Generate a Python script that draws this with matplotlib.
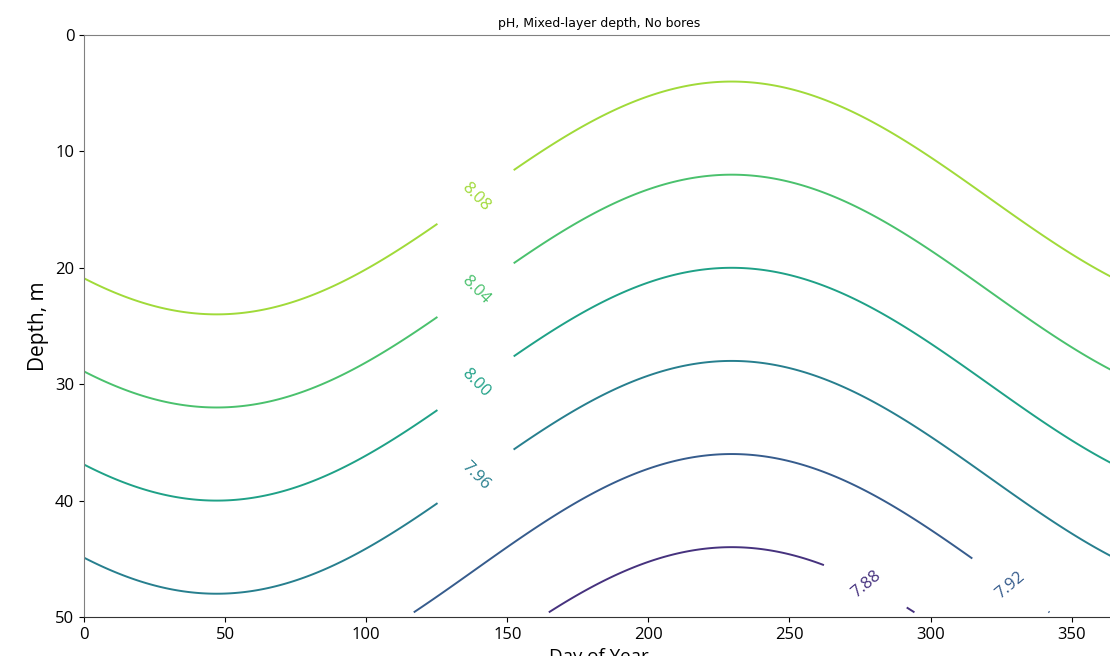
import numpy as np
import matplotlib
matplotlib.use("Agg")
import matplotlib.pyplot as plt

# --- data ---
levels = [7.88, 7.92, 7.96, 8.00, 8.04, 8.08]
color_min, color_max = 7.84, 8.12
ph_surface_mean = 8.15      # annual mean pH at the surface
ph_seasonal_amp = 0.05      # seasonal amplitude
peak_day = 47               # day of highest pH
ph_gradient = 0.005         # pH decrease per metre
days = np.arange(0, 366)
depths = np.linspace(0, 49.6, 125)
label_positions = [(139, 14), (139, 22), (139, 30), (139, 38), (277, 47.3), (327, 47.7)]
label_angles = [-45, -45, -45, -45, 40, 40]

D, Z = np.meshgrid(days, depths)
ph = (ph_surface_mean + ph_seasonal_amp * np.cos(2 * np.pi * (D - peak_day) / 365)
      - ph_gradient * Z)

plt.rcParams['font.family'] = ['Open Sans', 'DejaVu Sans']
fig = plt.figure(figsize=(11.1, 6.56), dpi=100)
ax = fig.add_axes([84 / 1110, 1 - 617 / 656, 1030 / 1110, 582 / 656])
cs = ax.contour(D, Z, ph, levels=levels, cmap='viridis', vmin=color_min, vmax=color_max,
                linewidths=1.4)
ax.set_xlim(0, 365)
ax.set_ylim(0, 50)
labels = ax.clabel(cs, inline=True, inline_spacing=30, fontsize=12, fmt='%.2f',
                   manual=label_positions)
ax.invert_yaxis()

# match label angles to the reference
for t in labels:
    x, y = t.get_position()
    best = min(range(len(label_positions)),
               key=lambda i: (label_positions[i][0] - x) ** 2 + (label_positions[i][1] - y) ** 2)
    t.set_rotation(label_angles[best])

ax.set_title('pH, Mixed-layer depth, No bores', fontsize=9, family='DejaVu Sans')
ax.set_xlabel('Day of Year', fontsize=13.5)
ax.set_ylabel('Depth, m', fontsize=15)
ax.tick_params(labelsize=12)
ax.set_xticks([0, 50, 100, 150, 200, 250, 300, 350])
ax.set_yticks([0, 10, 20, 30, 40, 50])
ax.spines['right'].set_visible(False)
for s in ['top', 'left']:
    ax.spines[s].set_color('#808080')
ax.spines['bottom'].set_color('#333333')

fig.savefig('out.png', dpi=100)
